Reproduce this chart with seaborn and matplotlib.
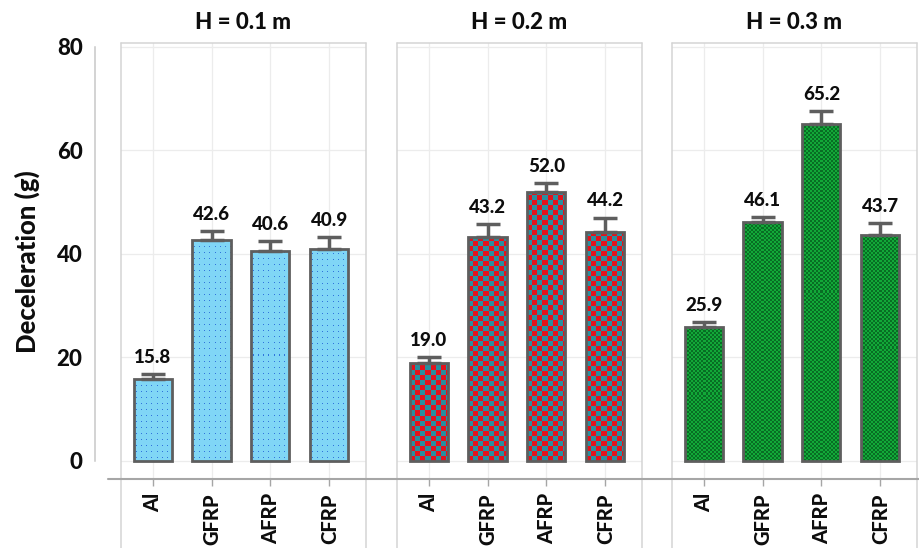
import numpy as np
import pandas as pd
import matplotlib
matplotlib.use("Agg")
import matplotlib.pyplot as plt
from matplotlib.lines import Line2D
import seaborn as sns

# ---- data ----
materials = ["Al", "GFRP", "AFRP", "CFRP"]
heights = ["H = 0.1 m", "H = 0.2 m", "H = 0.3 m"]
decel_h01 = [15.8, 42.6, 40.6, 40.9]
decel_h02 = [19.0, 43.2, 52.0, 44.2]
decel_h03 = [25.9, 46.1, 65.2, 43.7]
err_h01 = [1.0, 1.8, 1.9, 2.4]
err_h02 = [1.0, 2.6, 1.7, 2.8]
err_h03 = [0.9, 1.0, 2.4, 2.2]

values = [decel_h01, decel_h02, decel_h03]
errors = [err_h01, err_h02, err_h03]

sns.set_theme(style="white")
plt.rcParams["font.family"] = ["Lato", "DejaVu Sans"]
BOLD = 900

W, H = 919, 548
fig = plt.figure(figsize=(W / 100, H / 100), dpi=100)

FRAME = "#d4d4d4"
GRID = "#ececec"
EDGE = "#5e5e5e"
AXLINE = "#a6a6a6"
INK = "#0d0d0d"

y_lo, y_hi = -3.54, 80.7
ax_bottom_px, ax_top_px = 479.3, 43.3
panel_lefts = [120.7, 396.7, 671.7]
panel_w = 245.3


def fy(px):
    return 1 - px / H


def fx(px):
    return px / W


def texture(kind, nx, ny):
    """RGB texture array (rows, cols, 3) of nx by ny pixels."""
    yy, xx = np.mgrid[0:ny, 0:nx]
    if kind == "dots":
        bg = np.array([0x80, 0xd6, 0xf6]) / 255
        dot = np.array([0x30, 0x74, 0xdc]) / 255
        img = np.tile(bg, (ny, nx, 1))
        mask = (xx % 5 == 2) & (yy % 6 == 3)
        img[mask] = dot
    elif kind == "red":
        a = np.array([0xe4, 0x12, 0x1c]) / 255
        b = np.array([0x2a, 0x8e, 0x9e]) / 255
        chk = ((xx // 5) + (yy // 5)) % 2 == 0
        img = np.where(chk[..., None], a, b)
    else:
        a = np.array([0x12, 0xa8, 0x38]) / 255
        b = np.array([0x08, 0x6e, 0x24]) / 255
        chk = ((xx // 2) + (yy // 2)) % 2 == 0
        img = np.where(chk[..., None], a, b)
    return img


kinds = ["dots", "red", "green"]
for i in range(3):
    left = panel_lefts[i]
    ax = fig.add_axes([fx(left), fy(ax_bottom_px), fx(panel_w),
                       (ax_bottom_px - ax_top_px) / H])
    df = pd.DataFrame({"material": materials, "decel": values[i]})
    sns.barplot(data=df, x="material", y="decel", ax=ax, color="white",
                width=0.645, edgecolor=EDGE, linewidth=2.0, zorder=3,
                errorbar=None)
    ax.set_xlim(-0.54, 3.62)
    ax.set_ylim(y_lo, y_hi)
    for s in ax.spines.values():
        s.set_visible(False)
    ax.set_xlabel("")
    ax.set_ylabel("")
    ax.set_yticks([0, 20, 40, 60, 80])
    ax.set_yticklabels([])
    ax.tick_params(axis="y", length=0)
    ax.grid(True, color=GRID, linewidth=0.9, zorder=0)
    ax.set_axisbelow(True)
    ax.tick_params(axis="x", length=5, width=1.0, color=AXLINE,
                   direction="out", pad=5, bottom=True)
    ax.set_xticks(range(4))
    ax.set_xticklabels(materials, rotation=90, fontsize=14.5,
                       fontweight=BOLD, va="top", ha="center", color=INK)

    # pixel size in data units for textures
    px_per_x = panel_w / (3.62 + 0.54)
    px_per_y = (ax_bottom_px - ax_top_px) / (y_hi - y_lo)

    for j, bar in enumerate(ax.patches):
        x0 = bar.get_x()
        bw = bar.get_width()
        bh = bar.get_height()
        nx = max(int(round(bw * px_per_x)), 1)
        ny = max(int(round(bh * px_per_y)), 1)
        img = texture(kinds[i], nx, ny)
        im = ax.imshow(img, extent=[x0, x0 + bw, 0, bh], origin="lower",
                       interpolation="nearest", aspect="auto", zorder=2.5)
        im.set_clip_path(bar)
        bar.set_facecolor("none")

        v = values[i][j]
        e = errors[i][j]
        cx = x0 + bw / 2
        ax.errorbar(cx, v, yerr=[[0], [e]], fmt="none", ecolor=EDGE,
                    elinewidth=2.5, capsize=8.5, capthick=2.5, zorder=4)
        ax.text(cx, v + e + 1.6, f"{v:.1f}", ha="center", va="bottom",
                fontsize=13.5, fontweight=BOLD, color=INK, zorder=5)

    ax.set_title(heights[i], fontsize=16, fontweight=BOLD, pad=10, color=INK)
    ax.set_aspect("auto")

    # panel frame (top and sides, sides run to the figure bottom)
    fig.add_artist(Line2D([fx(left), fx(left + panel_w)],
                          [fy(ax_top_px), fy(ax_top_px)], color=FRAME, lw=1.1))
    for xp in (left, left + panel_w):
        fig.add_artist(Line2D([fx(xp), fx(xp)], [fy(ax_top_px), 0],
                              color=FRAME, lw=1.1))

# horizontal category axis line across all panels
fig.add_artist(Line2D([fx(108), 1], [fy(ax_bottom_px), fy(ax_bottom_px)],
                      color=AXLINE, lw=1.5))

# shared value axis on the left
yax = fig.add_axes([fx(95), fy(ax_bottom_px), 0.0005,
                    (ax_bottom_px - ax_top_px) / H])
yax.set_ylim(y_lo, y_hi)
yax.set_xticks([])
for name, s in yax.spines.items():
    s.set_visible(name == "left")
yax.spines["left"].set_color("#c8c8c8")
yax.spines["left"].set_linewidth(1.1)
yax.spines["left"].set_bounds(0, 80)
yax.set_yticks([0, 20, 40, 60, 80])
yax.tick_params(axis="y", length=6, width=1.0, color="#c8c8c8",
                labelsize=16, pad=3, labelcolor=INK)
for t in yax.get_yticklabels():
    t.set_fontweight(BOLD)
yax.patch.set_visible(False)
yax.set_ylabel("Deceleration (g)", fontsize=18.5, fontweight=BOLD,
               labelpad=12, color=INK)

fig.savefig("out.png", dpi=100)
